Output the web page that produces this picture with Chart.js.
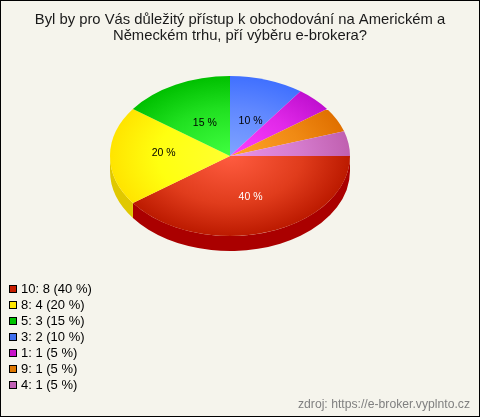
<!DOCTYPE html>
<html>
<head>
    <title>e-broker pie</title>
    <style>
        html, body { margin: 0; padding: 0; background: #f5f4ec; }
        canvas { display: block; }
    </style>
</head>
<body>
    <canvas id="chart" width="480" height="417"></canvas>

    <script src="https://cdnjs.cloudflare.com/ajax/libs/Chart.js/4.4.1/chart.umd.min.js"></script>
    <script>
        const categories = ['10', '8', '5', '3', '1', '9', '4'];
        const counts = [8, 4, 3, 2, 1, 1, 1];
        const percents = [40, 20, 15, 10, 5, 5, 5];
        const titleLines = [
            'Byl by pro Vás důležitý přístup k obchodování na Americkém a',
            'Německém trhu, pří výběru e-brokera?'
        ];
        const sourceText = 'zdroj: https://e-broker.vyplnto.cz';

        const legendColors = ['#c81e00', '#ffe600', '#00c400', '#4070f0', '#c814c8', '#e07800', '#c060b4'];
        const innerColors = ['#ff5c40', '#ffff30', '#40ff40', '#80a4ff', '#ff40ff', '#ffa428', '#e894e8'];
        const middleColors = ['#e03c1c', '#ffff10', '#20e020', '#6088ff', '#e028e8', '#f08a14', '#d47acc'];
        const outerColors = ['#bc1a00', '#ffe400', '#00c000', '#4070ff', '#c010d0', '#e07000', '#c060b0'];
        const wallColors = ['#aa0000', '#e0c800', '#008000', '#2040b0', '#800080', '#a05000', '#804080'];

        const FONT = '"Liberation Sans", Arial, sans-serif';
        const SQUASH = 2 / 3;   // flattens the round pie to an ellipse
        const DEPTH = 15;       // height of the side wall

        function pieCenter(chart) {
            const arc = chart.getDatasetMeta(0).data[0];
            return { x: arc.x, y: arc.y, r: arc.outerRadius };
        }

        const tiltPlugin = {
            id: 'tilt',
            beforeDatasetsDraw(chart) {
                const ctx = chart.ctx;
                const c = pieCenter(chart);
                // side wall, only the front half can be seen
                chart.getDatasetMeta(0).data.forEach((arc, i) => {
                    const a0 = Math.max(arc.startAngle, 0);
                    const a1 = Math.min(arc.endAngle, Math.PI);
                    if (a1 <= a0) return;
                    const ry = c.r * SQUASH;
                    ctx.beginPath();
                    ctx.ellipse(c.x, c.y, c.r, ry, 0, a0, a1);
                    ctx.ellipse(c.x, c.y + DEPTH, c.r, ry, 0, a1, a0, true);
                    ctx.closePath();
                    ctx.fillStyle = wallColors[i];
                    ctx.fill();
                });
                ctx.save();
                ctx.translate(c.x, c.y);
                ctx.scale(1, SQUASH);
                ctx.translate(-c.x, -c.y);
            },
            afterDatasetsDraw(chart) {
                const ctx = chart.ctx;
                ctx.restore();

                const c = pieCenter(chart);
                ctx.font = '10.5px ' + FONT;
                ctx.textAlign = 'center';
                ctx.textBaseline = 'middle';
                chart.getDatasetMeta(0).data.forEach((arc, i) => {
                    if (percents[i] < 10) return;
                    const mid = (arc.startAngle + arc.endAngle) / 2;
                    // the yellow label sits a bit further out in the reference
                    const dist = i === 1 ? 0.57 : 0.5;
                    const x = c.x + Math.cos(mid) * c.r * dist + 2;
                    const y = c.y + Math.sin(mid) * c.r * dist * SQUASH + (i === 1 ? -3 : 3);
                    ctx.fillStyle = i === 0 ? '#ffffff' : '#000000';
                    ctx.fillText(percents[i] + ' %', x, y);
                });
            }
        };

        const framePlugin = {
            id: 'frame',
            afterDraw(chart) {
                const ctx = chart.ctx;
                ctx.save();
                ctx.textBaseline = 'middle';

                // title
                ctx.font = '14.8px ' + FONT;
                ctx.textAlign = 'center';
                ctx.fillStyle = '#1a1a1a';
                titleLines.forEach((line, i) => ctx.fillText(line, 240, 20 + i * 16));

                // legend
                ctx.font = '13px ' + FONT;
                ctx.textAlign = 'left';
                categories.forEach((cat, i) => {
                    const y = 289 + i * 16;
                    ctx.fillStyle = legendColors[i];
                    ctx.fillRect(9, y - 4, 8, 8);
                    ctx.strokeStyle = '#000000';
                    ctx.lineWidth = 1;
                    ctx.strokeRect(9.5, y - 3.5, 7, 7);
                    ctx.fillStyle = '#000000';
                    ctx.fillText(`${cat}: ${counts[i]} (${percents[i]} %)`, 21, y);
                });

                // source
                ctx.font = '12.2px ' + FONT;
                ctx.textAlign = 'right';
                ctx.fillStyle = '#808080';
                ctx.fillText(sourceText, 470, 405);

                // border
                ctx.strokeStyle = '#000000';
                ctx.lineWidth = 1;
                ctx.strokeRect(0.5, 0.5, 479, 416);
                ctx.restore();
            }
        };

        function sliceGradient(context) {
            const chart = context.chart;
            const i = context.dataIndex;
            if (!chart.chartArea) return outerColors[i];
            const a = chart.chartArea;
            const x = (a.left + a.right) / 2;
            const y = (a.top + a.bottom) / 2;
            const g = chart.ctx.createRadialGradient(x, y, 0, x, y, 120);
            g.addColorStop(0, innerColors[i]);
            g.addColorStop(0.6, middleColors[i]);
            g.addColorStop(1, outerColors[i]);
            return g;
        }

        new Chart(document.getElementById('chart').getContext('2d'), {
            type: 'pie',
            data: {
                labels: categories,
                datasets: [{
                    data: counts,
                    backgroundColor: sliceGradient,
                    borderWidth: 0
                }]
            },
            options: {
                responsive: false,
                animation: false,
                rotation: 90,
                // chart area is the 240px square around the pie centre (230, 156)
                layout: { padding: { left: 110, right: 130, top: 36, bottom: 141 } },
                plugins: {
                    legend: { display: false },
                    title: { display: false },
                    tooltip: { enabled: false }
                }
            },
            plugins: [tiltPlugin, framePlugin]
        });
    </script>
</body>
</html>
